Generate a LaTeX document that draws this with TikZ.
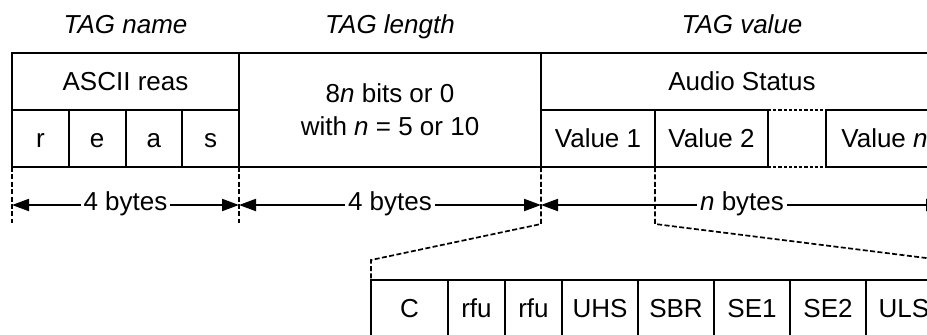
\documentclass[tikz,border=0pt]{standalone}
\usepackage{fontspec}
\setmainfont{Liberation Sans}
\usetikzlibrary{positioning, arrows.meta}

\newcommand\figfont{\fontsize{13pt}{16.5pt}\selectfont}

\tikzset{
  field/.style={draw, line width=1pt, inner sep=0pt, outer sep=0pt, minimum height=28.5pt},
  cell/.style={field, text height=9.2pt, text depth=0pt},
  title/.style={font=\figfont\itshape, anchor=base},
  guide/.style={dash pattern=on 2.5pt off 1.2pt, line width=0.85pt},
  gapline/.style={dash pattern=on 1.6pt off 1pt, line width=0.8pt},
  span/.style={{Triangle[length=8.5pt,width=6pt]}-{Triangle[length=8.5pt,width=6pt]}, line width=1pt},
  bytes/.style={fill=white, inner sep=1.5pt, anchor=mid}
}

\begin{document}
\begin{tikzpicture}[x=0.5pt, y=-0.5pt, font=\figfont]
\clip (0,0) rectangle (927,334);

% TAG name
\node[cell, minimum width=113.5pt] (ascii) at (125.5,81.5) {ASCII reas};
\node[cell, minimum width=28.375pt, anchor=north west] (chr) at (ascii.south west) {r};
\node[cell, minimum width=28.375pt, right=0pt of chr] (che) {e};
\node[cell, minimum width=28.375pt, right=0pt of che] (cha) {a};
\node[cell, minimum width=28.375pt, right=0pt of cha] (chs) {s};

% TAG length
\node[field, minimum width=151pt, minimum height=57pt, align=center, anchor=north west] (len) at (ascii.north east) {8\textit{n} bits or 0\\with \textit{n} = 5 or 10};

% TAG value
\node[cell, draw=none, minimum width=201pt, anchor=north west] (audio) at (len.north east) {Audio Status};
\node[cell, minimum width=57pt, anchor=north west] (val1) at (audio.south west) {Value 1};
\node[cell, minimum width=56.5pt, right=0pt of val1] (val2) {Value 2};
\node[cell, draw=none, minimum width=29pt, right=0pt of val2] (gap) {};
\node[cell, minimum width=58.5pt, right=0pt of gap] (valn) {Value \textit{n}};
\draw[line width=1pt] (audio.south west) |- (audio.north east) -- (audio.south east);
\draw[gapline] (gap.north west) -- (gap.north east) (gap.south west) -- (gap.south east);

% headings
\coordinate (titlerow) at (0,33);
\node[title] (tname) at (ascii.north |- titlerow) {TAG name};
\node[title] (tlen) at (len.north |- titlerow) {TAG length};
\node[title] (tval) at (audio.north |- titlerow) {TAG value};

% sizes
\coordinate (tickend) at (0,223);
\coordinate (dimrow) at (0,205);
\draw[guide] (chr.south west) -- (chr.south west |- tickend);
\draw[guide] (chs.south east) -- (chs.south east |- tickend);
\draw[span] (chr.south west |- dimrow) -- node[bytes] {4 bytes} (chs.south east |- dimrow);
\draw[span] (len.south west |- dimrow) -- node[bytes] {4 bytes} (len.south east |- dimrow);
\draw[span] (val1.south west |- dimrow) -- node[bytes] {\textit{n} bytes} (valn.south east |- dimrow);

% status bits
\node[cell, minimum width=38.5pt, anchor=north west] (bitc) at (371,280) {C};
\node[cell, minimum width=28.5pt, right=0pt of bitc] (rfua) {rfu};
\node[cell, minimum width=28.5pt, right=0pt of rfua] (rfub) {rfu};
\node[cell, minimum width=38pt, right=0pt of rfub] (uhs) {UHS};
\node[cell, minimum width=38pt, right=0pt of uhs] (sbr) {SBR};
\node[cell, minimum width=38pt, right=0pt of sbr] (seone) {SE1};
\node[cell, minimum width=38pt, right=0pt of seone] (setwo) {SE2};
\node[cell, minimum width=38pt, right=0pt of setwo] (uls) {ULS};

% zoom lines
\coordinate (kink) at (0,224);
\coordinate (bend) at (0,260);
\draw[guide] (val1.south west) -- (val1.south west |- kink) -- (bitc.north west |- bend) -- (bitc.north west);
\draw[guide] (val2.south west) -- (val2.south west |- kink) -- (uls.north east |- bend) -- (uls.north east);
\end{tikzpicture}
\end{document}
